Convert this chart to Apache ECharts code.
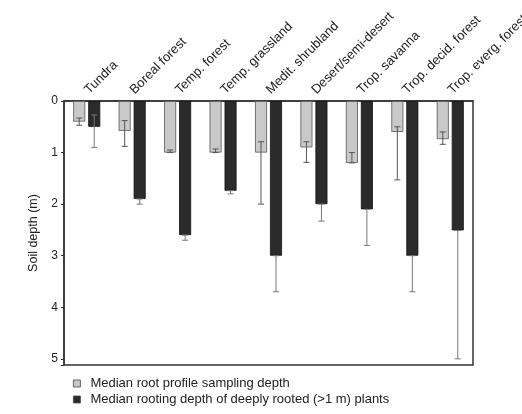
<!DOCTYPE html>
<html><head><meta charset="utf-8">
<script src="https://cdn.jsdelivr.net/npm/echarts@6/dist/echarts.min.js"></script>
<style>html,body{margin:0;padding:0;background:#fff}#c{width:522px;height:414px}</style>
</head><body><div id="c"></div>
<script>
const categories = ['Tundra','Boreal forest','Temp. forest','Temp. grassland','Medit. shrubland','Desert/semi-desert','Trop. savanna','Trop. decid. forest','Trop. everg. forest'];
const samplingDepth = [0.4,0.58,1.0,1.0,1.0,0.9,1.2,0.6,0.74];
const samplingLow   = [0.33,0.38,0.95,0.93,0.79,0.79,1.0,0.5,0.6];
const samplingHigh  = [0.47,0.88,1.0,1.0,2.0,1.19,1.2,1.53,0.84];
const rootingDepth  = [0.5,1.9,2.6,1.74,3.0,2.0,2.1,3.0,2.51];
const rootingLow    = [0.27,1.9,2.6,1.74,3.0,2.0,2.1,3.0,2.51];
const rootingHigh   = [0.9,2.0,2.7,1.8,3.7,2.33,2.8,3.7,5.0];
const yTicks = [0,1,2,3,4,5];

const BW = 12, GAP = 3;
function errSeries(low, high, offset, color){
  return {
    type:'custom', silent:true, z:5,
    data: categories.map((c,i)=>[i, low[i], high[i]]),
    renderItem: function(params, api){
      const i = api.value(0);
      const a = api.coord([i, api.value(1)]);
      const b = api.coord([i, api.value(2)]);
      const x = a[0] + offset;
      const st = {stroke: color, lineWidth: 1};
      return {type:'group', children:[
        {type:'line', shape:{x1:x,y1:a[1],x2:x,y2:b[1]}, style:st},
        {type:'line', shape:{x1:x-3,y1:a[1],x2:x+3,y2:a[1]}, style:st},
        {type:'line', shape:{x1:x-3,y1:b[1],x2:x+3,y2:b[1]}, style:st}
      ]};
    }
  };
}

const chart = echarts.init(document.getElementById('c'), null, {renderer:'canvas'});
chart.setOption({
  animation:false,
  textStyle:{fontFamily:'Liberation Sans, Arial, sans-serif'},
  grid:{left:64, right:49, top:101, bottom:49, show:true, borderColor:'#333', borderWidth:1.5,
        backgroundColor:'transparent', containLabel:false, outerBoundsMode:'none'},
  legend:{
    orient:'vertical', left:73, top:377, padding:0, height:40, itemWidth:7, itemHeight:7, itemGap:3, icon:'rect',
    itemStyle:{borderColor:'#444', borderWidth:0.8},
    textStyle:{fontSize:13, color:'#222', padding:[0,0,0,5], lineHeight:13},
    data:['Median root profile sampling depth','Median rooting depth of deeply rooted (>1 m) plants']
  },
  xAxis:{
    type:'category', position:'top', data:categories,
    axisLine:{lineStyle:{color:'#333', width:1.5}},
    axisTick:{show:false},
    axisLabel:{rotate:45, fontSize:13, color:'#222', margin:9, interval:0}
  },
  yAxis:{
    type:'value', inverse:true, min:0, max:5.12, interval:1,
    name:'Soil depth (m)', nameLocation:'middle', nameGap:23, nameRotate:90,
    nameTextStyle:{fontSize:12.5, color:'#222'},
    axisLine:{show:true, lineStyle:{color:'#333', width:1.5}},
    axisTick:{show:true, length:3, lineStyle:{color:'#333'}},
    splitLine:{show:false},
    axisLabel:{fontSize:12, color:'#222', margin:6,
      formatter:function(v){ return yTicks.indexOf(v) >= 0 ? String(v) : ''; }}
  },
  series:[
    {name:'Median root profile sampling depth', type:'bar', data:samplingDepth, barWidth:BW, barGap:'25%',
      itemStyle:{color:'#c9c9c9', borderColor:'#555', borderWidth:0.8}},
    {name:'Median rooting depth of deeply rooted (>1 m) plants', type:'bar', data:rootingDepth, barWidth:BW,
      itemStyle:{color:'#2b2b2b', borderColor:'#111', borderWidth:0.8}},
    errSeries(samplingLow, samplingHigh, -(BW+GAP)/2, '#555'),
    errSeries(rootingLow, rootingHigh, (BW+GAP)/2, '#777')
  ]
});
</script></body></html>
